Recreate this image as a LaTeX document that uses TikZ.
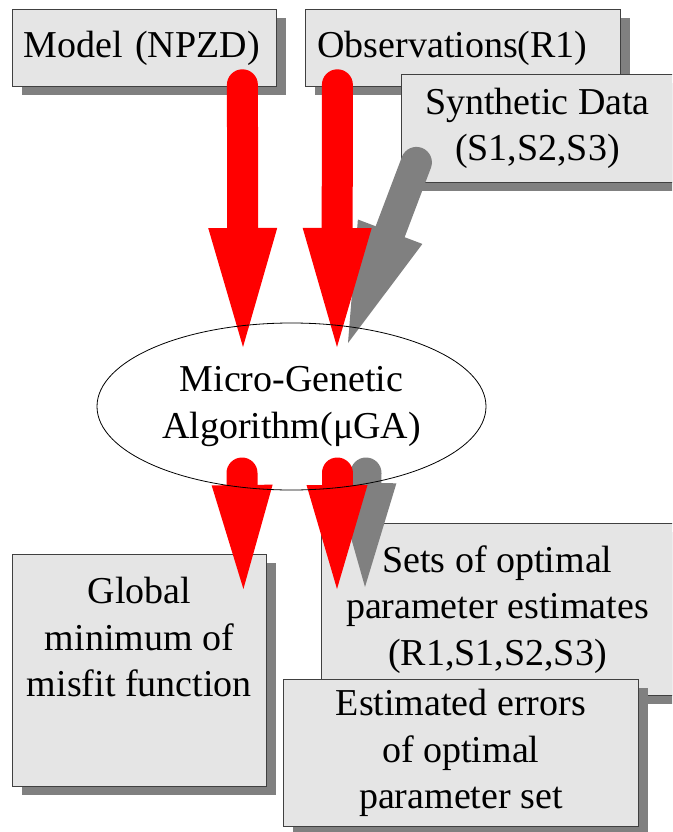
\documentclass[tikz,border=0pt]{standalone}
\usepackage{fontspec}
\setmainfont{Liberation Serif}
\usetikzlibrary{arrows.meta,shapes.geometric,shadows,positioning}

\pgfdeclarelayer{back}
\pgfdeclarelayer{front}
\pgfsetlayers{back,main,front}

\tikzset{
  panel/.style={draw=black!75, line width=0.8pt, fill=gray!20, inner sep=0pt, anchor=north west,
    drop shadow={shadow xshift=10pt, shadow yshift=-9pt, fill=gray, opacity=1}},
  bigflow/.style={line width=31pt, line cap=round,
    -{Triangle[length=119pt 0 0, width=69pt 0 0, line width=0pt 0 0]}},
  smallflow/.style={line width=31pt, line cap=round,
    -{Triangle[length=104pt 0 0, width=61pt 0 0, line width=0pt 0 0]}},
}

\begin{document}
\begin{tikzpicture}[x=1pt,y=-1pt,font=\fontsize{38}{46.5}\selectfont]
\useasboundingbox (0,0) rectangle (672,832);

% boxes, under everything
\begin{pgfonlayer}{back}
\clip (0,0) rectangle (672,832);
\node[panel, minimum width=264pt, minimum height=77pt, text width=242pt, align=left] (model) at (12,9) {Model (NPZD)};
\node[panel, minimum width=315pt, minimum height=77pt, text width=291pt, align=left] (obs) at (305,9) {Observations(R1)};
\node[panel, minimum width=272pt, minimum height=108pt, align=center] (synth) at (401,74) {Synthetic Data\\(S1,S2,S3)};
\node[panel, minimum width=254pt, minimum height=232pt] (glob) at (12,554) {};
\node[below=23pt of glob.north, inner sep=0pt, align=center] (globtext) {Global\\minimum of\\misfit function};
\node[panel, minimum width=352pt, minimum height=172pt, align=center] (sets) at (321,523) {Sets of optimal\\parameter estimates\\(R1,S1,S2,S3)};
\node[panel, minimum width=355pt, minimum height=147pt, align=center] (err) at (283,679) {Estimated errors\\of optimal\\parameter set};
\end{pgfonlayer}

% the algorithm, outline on top of the arrows
\begin{pgfonlayer}{front}
\node[ellipse, draw, line width=0.8pt, minimum width=389pt, minimum height=167pt, inner sep=0pt, align=center] (mga) at (291.5,406.5) {Micro-Genetic\\Algorithm(μGA)};
\end{pgfonlayer}

% inputs
\draw[bigflow, gray] ([shift={(-121,34)}]synth.center) -- ([shift={(56.5,-63.5)}]mga.center);
\draw[bigflow, red] ([shift={(98,-2)}]model.south) -- ([shift={(-48.5,-59.5)}]mga.center);
\draw[bigflow, red] ([shift={(-125.5,-2)}]obs.south) -- ([shift={(45.5,-59.5)}]mga.center);

% outputs
\draw[smallflow, red] ([shift={(-49.5,66.5)}]mga.center) -- ([shift={(104,35)}]glob.north);
\draw[smallflow, gray] ([shift={(74.5,66.5)}]mga.center) -- ([shift={(44,64)}]sets.north west);
\draw[smallflow, red] ([shift={(45.5,66.5)}]mga.center) -- ([shift={(16,66)}]sets.north west);
\end{tikzpicture}
\end{document}
